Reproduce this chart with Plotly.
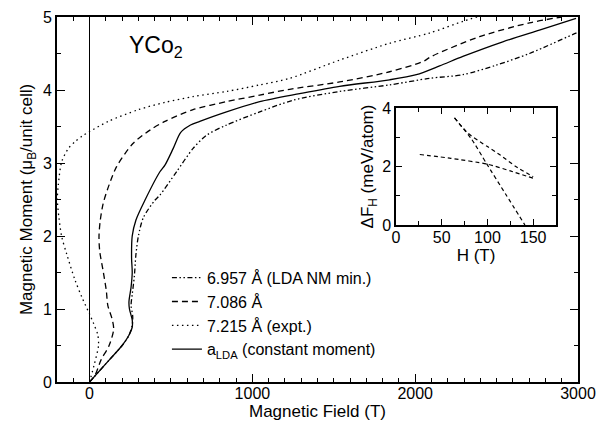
import plotly.graph_objects as go

# ---- main panel data (Magnetic Field in T, Magnetic Moment in muB/unit cell) ----
h_nm = [0, 120, 200, 242, 262, 265, 255, 262, 275, 285, 300, 330, 401, 432, 534, 636, 718, 841,
        1045, 1250, 1536, 1843, 2088, 2293, 2497, 2702, 2988, 3000]
m_nm = [0, 0.3, 0.5, 0.64, 0.78, 0.9, 1.05, 1.2, 1.45, 1.75, 2.0, 2.25, 2.49, 2.56, 2.88, 3.2, 3.38, 3.52,
        3.70, 3.86, 3.98, 4.07, 4.16, 4.21, 4.34, 4.50, 4.78, 4.79]

h_7086 = [0, 35, 70, 120, 148, 140, 112, 103, 85, 62, 58, 65, 84, 120, 166, 268, 371, 463, 636, 841,
          1045, 1229, 1536, 1843, 2048, 2100, 2395, 2702, 2900]
m_7086 = [0, 0.1, 0.3, 0.5, 0.72, 0.85, 1.05, 1.25, 1.5, 1.8, 2.0, 2.2, 2.45, 2.7, 2.95, 3.27, 3.45, 3.57, 3.73, 3.84,
          3.93, 4.01, 4.11, 4.25, 4.39, 4.46, 4.73, 4.92, 5.0]

h_7215 = [0, 30, 55, 50, 25, 0, -45, -90, -140, -171, -188, -198, -192, -171, -130, -90, -45, 0, 115, 299, 463,
          636, 841, 1045, 1229, 1536, 1843, 2088, 2293, 2380]
m_7215 = [0, 0.25, 0.5, 0.65, 0.8, 0.93, 1.15, 1.40, 1.75, 1.99, 2.25, 2.5, 2.7, 3.02, 3.2, 3.29, 3.37, 3.43, 3.57, 3.73, 3.83,
          3.91, 3.98, 4.07, 4.16, 4.41, 4.64, 4.78, 4.94, 5.0]

h_lda = [0, 120, 200, 242, 262, 262, 245, 242, 255, 262, 258, 262, 285, 340, 432, 463, 514, 560, 620, 677, 841,
         1045, 1291, 1536, 1843, 2007, 2150, 2293, 2538, 2763, 2988]
m_lda = [0, 0.3, 0.5, 0.64, 0.75, 0.85, 1.0, 1.1, 1.3, 1.5, 1.7, 2.0, 2.22, 2.49, 2.88, 2.97, 3.2, 3.42, 3.52, 3.57, 3.70,
         3.84, 3.95, 4.05, 4.14, 4.21, 4.33, 4.46, 4.66, 4.82, 4.98]

series_names = ["6.957 Å (LDA NM min.)", "7.086 Å", "7.215 Å (expt.)", "a<sub>LDA</sub> (constant moment)"]

# ---- inset data (H in T, Delta F_H in meV/atom) ----
inset_h_a = [64, 83, 99, 120, 141]
inset_f_a = [3.66, 2.92, 2.1, 1.05, 0]
inset_h_b = [64, 79, 100, 114, 131, 150]
inset_f_b = [3.66, 3.13, 2.68, 2.39, 2.0, 1.65]
inset_h_c = [26, 60, 100, 125, 150]
inset_f_c = [2.41, 2.28, 2.08, 1.85, 1.6]

FONT = "Liberation Sans, Arial, Helvetica, sans-serif"

# The page body has an 8px margin: the figure is sized and offset to compensate.
W, H = 600, 415

fig = go.Figure()
styles = [
    dict(dash="5px,2.5px,1.5px,2.5px,1.5px,2.5px"),
    dict(dash="6px,4px"),
    dict(dash="1.5px,3.5px"),
    dict(dash="solid"),
]
for (hx, my), name, st in zip([(h_nm, m_nm), (h_7086, m_7086), (h_7215, m_7215), (h_lda, m_lda)],
                               series_names, styles):
    fig.add_trace(go.Scatter(x=hx, y=my, mode="lines", name=name,
                             line=dict(color="black", width=1.3, shape="spline", smoothing=0.8, **st),
                             xaxis="x", yaxis="y"))

for hx, fy in [(inset_h_a, inset_f_a), (inset_h_b, inset_f_b), (inset_h_c, inset_f_c)]:
    fig.add_trace(go.Scatter(x=hx, y=fy, mode="lines", showlegend=False,
                             line=dict(color="black", width=1.2, dash="4px,3px", shape="spline", smoothing=0.6),
                             xaxis="x2", yaxis="y2"))

axis_common = dict(showgrid=False, showline=True, linecolor="black", mirror="ticks", automargin=False,
                   ticks="inside", tickcolor="black", tickfont=dict(size=16, color="black", family=FONT))

fig.update_layout(
    width=W, height=H, autosize=False,
    margin=dict(l=49, r=30, t=9, b=41, pad=0),
    paper_bgcolor="white", plot_bgcolor="white",
    font=dict(family=FONT, color="black", size=16),
    xaxis=dict(range=[-200, 3000], tick0=0, dtick=1000,
               ticklen=8, tickwidth=1.2, linewidth=1.8, ticklabelstandoff=-4,
               minor=dict(dtick=100, ticklen=4, ticks="inside", tickcolor="black"),
               zeroline=True, zerolinecolor="black", zerolinewidth=1,
               title=dict(text="Magnetic Field (T)", standoff=2, font=dict(size=17)),
               **axis_common),
    xaxis3=dict(range=[-200, 3000], overlaying="x", matches="x", anchor="y", tick0=0, dtick=500,
                ticks="inside", ticklen=8, tickwidth=1.2, tickcolor="black",
                showticklabels=False, showgrid=False, showline=False, mirror="ticks", zeroline=False),
    yaxis=dict(range=[0, 5], dtick=1, ticklen=8, tickwidth=1.2, linewidth=1.8,
               minor=dict(dtick=0.5, ticklen=4, ticks="inside", tickcolor="black"),
               zeroline=False,
               title=dict(text="Magnetic Moment (μ<sub>B</sub>/unit cell)", standoff=6, font=dict(size=17)),
               **axis_common),
    xaxis2=dict(domain=[0.6507, 0.9578], anchor="y2", range=[0, 175], dtick=50, ticklen=6, linewidth=1.5,
                ticklabelstandoff=-3,
                minor=dict(dtick=25, ticklen=4, ticks="inside", tickcolor="black"),
                zeroline=False,
                title=dict(text="H (T)", standoff=2, font=dict(size=17)),
                **axis_common),
    yaxis2=dict(domain=[0.4301, 0.7507], anchor="x2", range=[0, 4], dtick=2, ticklen=6, linewidth=1.5,
                minor=dict(dtick=1, ticklen=4, ticks="inside", tickcolor="black"),
                zeroline=False,
                title=dict(text="ΔF<sub>H</sub> (meV/atom)", standoff=4, font=dict(size=17)),
                **axis_common),
    legend=dict(x=0.211, y=0.332, xanchor="left", yanchor="top", bgcolor="rgba(0,0,0,0)",
                font=dict(size=16, family=FONT, color="black"), tracegroupgap=0),
    annotations=[dict(text="YCo<sub>2</sub>", x=0.135, y=0.92, xref="paper", yref="paper",
                      xanchor="left", yanchor="middle", showarrow=False,
                      font=dict(size=23, family=FONT, color="black"))],
)

fig.write_html("out.html")
